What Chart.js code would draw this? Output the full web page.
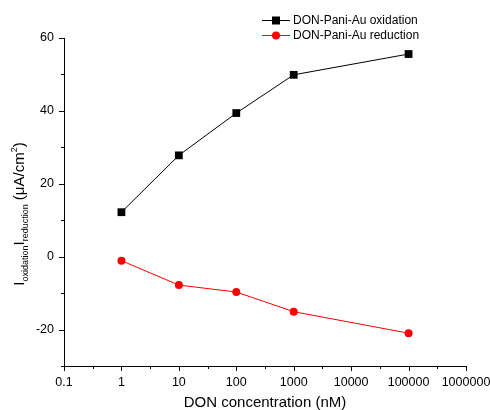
<!DOCTYPE html>
<html>
<head>
<meta charset="utf-8">
<script src="https://cdn.jsdelivr.net/npm/chart.js@4.4.1/dist/chart.umd.min.js"></script>
<style>
  html, body { margin: 0; padding: 0; background: #fff; }
  #wrap { width: 490px; height: 410px; }
</style>
</head>
<body>
<div id="wrap"><canvas id="chart" width="490" height="410"></canvas></div>
<script>
const FONT = '"Liberation Sans", Arial, sans-serif';

// data
const concentrations = [1, 10, 100, 1000, 100000];
const oxidation = [12.2, 27.8, 39.4, 49.9, 55.6];
const reduction = [-1.1, -7.8, -9.7, -15.1, -21.0];

const xMajorTicks = [0.1, 1, 10, 100, 1000, 10000, 100000, 1000000];
const yMajorTicks = [-20, 0, 20, 40, 60];
const yMinorTicks = [-30, -10, 10, 30, 50];

const seriesNames = ['DON-Pani-Au oxidation', 'DON-Pani-Au reduction'];
const seriesColors = ['#000000', '#ff0000'];
const seriesMarkers = ['rect', 'circle'];

function points(ys) {
    return concentrations.map((c, i) => ({ x: c, y: ys[i] }));
}

/* axis ticks, titles and legend */
const decorations = {
    id: 'decorations',
    afterDraw(chart) {
        const ctx = chart.ctx;
        const xs = chart.scales.x;
        const ys = chart.scales.y;
        const area = chart.chartArea;

        ctx.save();
        ctx.strokeStyle = '#000';
        ctx.lineWidth = 1;
        ctx.beginPath();
        // x ticks: major plus one minor mid-decade
        xMajorTicks.forEach((v, i) => {
            const px = Math.round(xs.getPixelForValue(v)) + 0.5;
            ctx.moveTo(px, area.bottom);
            ctx.lineTo(px, area.bottom + 5);
            if (i < xMajorTicks.length - 1) {
                const mx = Math.round(xs.getPixelForValue(v * Math.sqrt(10))) + 0.5;
                ctx.moveTo(mx, area.bottom);
                ctx.lineTo(mx, area.bottom + 3);
            }
        });
        yMajorTicks.forEach(v => {
            const py = Math.round(ys.getPixelForValue(v)) + 0.5;
            ctx.moveTo(area.left, py);
            ctx.lineTo(area.left - 5, py);
        });
        yMinorTicks.forEach(v => {
            const py = Math.round(ys.getPixelForValue(v)) + 0.5;
            ctx.moveTo(area.left, py);
            ctx.lineTo(area.left - 3, py);
        });
        ctx.stroke();

        // x title
        ctx.fillStyle = '#000';
        ctx.font = '15px ' + FONT;
        ctx.textAlign = 'center';
        ctx.textBaseline = 'alphabetic';
        ctx.fillText('DON concentration (nM)', (area.left + area.right) / 2, 407);

        // y title with subscripts
        const parts = [
            { t: 'I', size: 15, dy: 0 },
            { t: 'oxidation', size: 9, dy: 4 },
            { t: 'I', size: 15, dy: 0 },
            { t: 'reduction', size: 9, dy: 4 },
            { t: ' (\u03bcA/cm', size: 15, dy: 0 },
            { t: '2', size: 9, dy: -7 },
            { t: ')', size: 15, dy: 0 }
        ];
        let total = 0;
        parts.forEach(p => {
            ctx.font = p.size + 'px ' + FONT;
            p.w = ctx.measureText(p.t).width;
            total += p.w;
        });
        ctx.translate(24, 214);
        ctx.rotate(-Math.PI / 2);
        ctx.textAlign = 'left';
        let cx = -total / 2;
        parts.forEach(p => {
            ctx.font = p.size + 'px ' + FONT;
            ctx.fillText(p.t, cx, p.dy);
            cx += p.w;
        });
        ctx.restore();

        // legend
        ctx.save();
        ctx.font = '12px ' + FONT;
        ctx.textBaseline = 'middle';
        seriesNames.forEach((name, i) => {
            const y = 20.5 + i * 15;
            ctx.strokeStyle = seriesColors[i];
            ctx.fillStyle = seriesColors[i];
            ctx.lineWidth = 1;
            ctx.beginPath();
            ctx.moveTo(262, y);
            ctx.lineTo(290, y);
            ctx.stroke();
            if (seriesMarkers[i] === 'rect') {
                ctx.fillRect(272, y - 4, 8, 8);
            } else {
                ctx.beginPath();
                ctx.arc(276, y, 4, 0, Math.PI * 2);
                ctx.fill();
            }
            ctx.fillStyle = '#000';
            ctx.fillText(name, 293, y);
        });
        ctx.restore();
    }
};

new Chart(document.getElementById('chart'), {
    type: 'line',
    data: {
        datasets: [
            {
                label: seriesNames[0],
                data: points(oxidation),
                borderColor: seriesColors[0],
                backgroundColor: seriesColors[0],
                borderWidth: 1,
                pointStyle: seriesMarkers[0],
                pointRadius: 5.5,
                pointBorderWidth: 0,
                tension: 0
            },
            {
                label: seriesNames[1],
                data: points(reduction),
                borderColor: seriesColors[1],
                backgroundColor: seriesColors[1],
                borderWidth: 1,
                pointStyle: seriesMarkers[1],
                pointRadius: 4,
                pointBorderWidth: 0,
                tension: 0
            }
        ]
    },
    options: {
        responsive: false,
        animation: false,
        devicePixelRatio: 1,
        layout: { padding: { top: 38, right: 24, left: 0, bottom: 0 } },
        plugins: {
            legend: { display: false },
            tooltip: { enabled: false }
        },
        scales: {
            x: {
                type: 'logarithmic',
                min: 0.1,
                max: 1000000,
                afterBuildTicks: s => { s.ticks = xMajorTicks.map(v => ({ value: v })); },
                afterFit: s => { s.height = 44; s.paddingLeft = 0; s.paddingRight = 0; },
                grid: { display: false, drawTicks: false },
                border: { display: true, color: '#000', width: 1 },
                ticks: {
                    padding: 9,
                    color: '#000',
                    maxRotation: 0,
                    autoSkip: false,
                    font: { family: FONT, size: 12.5 },
                    callback: v => String(v)
                }
            },
            y: {
                min: -30,
                max: 60,
                afterBuildTicks: s => { s.ticks = yMajorTicks.map(v => ({ value: v })); },
                afterFit: s => { s.width = 64; s.paddingTop = 0; s.paddingBottom = 0; },
                grid: { display: false, drawTicks: false },
                border: { display: true, color: '#000', width: 1 },
                ticks: {
                    padding: 10,
                    color: '#000',
                    font: { family: FONT, size: 12.5 },
                    callback: v => String(v)
                }
            }
        }
    },
    plugins: [decorations]
});
</script>
</body>
</html>
